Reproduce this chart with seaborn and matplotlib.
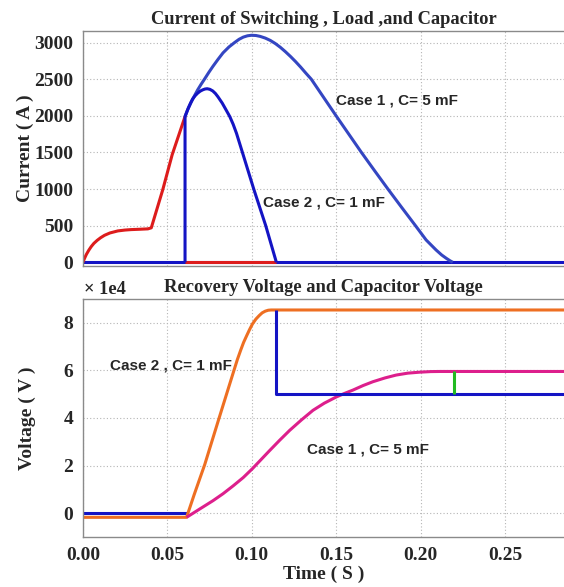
import matplotlib
matplotlib.use("Agg")
import matplotlib.pyplot as plt
import seaborn as sns

# ---------------- data ----------------
# Top panel: currents (A) vs time (s)
red_t = [0.0, 0.001, 0.002, 0.0035, 0.0049, 0.0065, 0.0085, 0.0105, 0.0128, 0.016,
         0.0207, 0.025, 0.0286, 0.034, 0.0385, 0.0405, 0.0473, 0.0529, 0.0605]
red_i = [0, 55, 105, 165, 213, 258, 300, 335, 368, 400,
         428, 440, 446, 451, 456, 470, 990, 1470, 1990]
red_zero_t = [0.0605, 0.1146]
red_zero_i = [0, 0]

case1_t = [0.0605, 0.0620, 0.0640, 0.0660, 0.0680, 0.0700, 0.0720, 0.0745, 0.0770, 0.0800,
           0.0830, 0.0865, 0.0898, 0.0925, 0.0950, 0.0975, 0.0998, 0.1025, 0.1050, 0.1080,
           0.1110, 0.1140, 0.1170, 0.1200, 0.1230, 0.1260, 0.1290, 0.1320, 0.1353, 0.1425,
           0.1500, 0.1575, 0.1650, 0.1728, 0.1807, 0.1888, 0.1970, 0.2033, 0.2092, 0.2125,
           0.2152, 0.2175, 0.2191]
case1_i = [1990, 2080, 2180, 2270, 2355, 2430, 2500, 2590, 2675, 2770,
           2860, 2940, 3000, 3045, 3075, 3093, 3100, 3097, 3085, 3062,
           3030, 2987, 2935, 2875, 2810, 2740, 2665, 2585, 2500, 2255,
           2000, 1750, 1500, 1250, 1000, 750, 500, 305, 168, 100,
           55, 20, 0]

case2_t = [0.0605, 0.0605, 0.0615, 0.0625, 0.0638, 0.0650, 0.0665, 0.0680, 0.0695, 0.0710,
           0.0723, 0.0736, 0.0752, 0.0769, 0.0785, 0.0800, 0.0825, 0.0848, 0.0870, 0.0890,
           0.0910, 0.0945, 0.1012, 0.1083, 0.1146]
case2_i = [0, 1990, 2050, 2110, 2175, 2230, 2275, 2310, 2337, 2355,
           2366, 2370, 2362, 2340, 2305, 2260, 2175, 2081, 1990, 1885,
           1760, 1500, 1000, 500, 0]

base_t = [0.0, 0.285]
base_i = [0, 0]

# Bottom panel: voltages (x 1e4 V) vs time (s)
orange_t = [0.0, 0.0614, 0.0660, 0.0722, 0.0807, 0.0895, 0.0915, 0.0935, 0.0952, 0.0970,
            0.0988, 0.1005, 0.1025, 0.1045, 0.1062, 0.1080, 0.1098, 0.1115, 0.285]
orange_v = [-0.17, -0.17, 0.80, 2.05, 4.0, 6.0, 6.45, 6.85, 7.17, 7.45,
            7.72, 7.95, 8.15, 8.3, 8.41, 8.48, 8.52, 8.53, 8.53]

blue0_t = [0.0, 0.0614]
blue0_v = [0.0, 0.0]
blue1_t = [0.1146, 0.1146, 0.285]
blue1_v = [8.53, 5.0, 5.0]

pink_t = [0.0614, 0.0690, 0.0771, 0.0830, 0.0890, 0.0950, 0.1004, 0.1055, 0.1106, 0.1165,
          0.1225, 0.1295, 0.1363, 0.1430, 0.1501, 0.1550, 0.1600, 0.1660, 0.1718, 0.1790,
          0.1856, 0.1925, 0.1994, 0.2060, 0.2113, 0.285]
pink_v = [-0.17, 0.17, 0.53, 0.82, 1.15, 1.50, 1.87, 2.25, 2.63, 3.06,
          3.48, 3.92, 4.32, 4.62, 4.88, 5.03, 5.17, 5.36, 5.52, 5.68,
          5.80, 5.88, 5.92, 5.945, 5.95, 5.95]

green_t = [0.220, 0.220]
green_v = [5.0, 5.95]

top_yticks = [0, 500, 1000, 1500, 2000, 2500, 3000]
bot_yticks = [0, 2, 4, 6, 8]
xticks = [0.00, 0.05, 0.10, 0.15, 0.20, 0.25]
xtick_labels = ["0.00", "0.05", "0.10", "0.15", "0.20", "0.25"]

# ---------------- style ----------------
sns.set_style("white")
plt.rcParams["font.family"] = ["Liberation Serif", "DejaVu Serif"]

SERIF = "Liberation Serif"
SANS = "Liberation Sans"
RED = "#dd1c1c"
BLUE1 = "#3446c2"
BLUE2 = "#1414c4"
ORANGE = "#ee6f22"
PINK = "#dd1f8c"
GREEN = "#22bb22"
LW = 2.2
TICK_FS = 14
TITLE_FS = 13.3

fig = plt.figure(figsize=(5.64, 5.87), dpi=100)
ax1 = fig.add_axes([0.147, 0.547, 0.853, 0.401])
ax2 = fig.add_axes([0.147, 0.085, 0.853, 0.406])


def line(ax, x, y, color, lw=LW):
    sns.lineplot(x=x, y=y, ax=ax, color=color, lw=lw, sort=False,
                 estimator=None, legend=False, solid_joinstyle="round",
                 solid_capstyle="butt")


# top panel
line(ax1, base_t, base_i, BLUE2)
line(ax1, red_zero_t, red_zero_i, RED)
line(ax1, red_t, red_i, RED)
line(ax1, case1_t, case1_i, BLUE1)
line(ax1, case2_t, case2_i, BLUE2)

# bottom panel
line(ax2, blue0_t, blue0_v, BLUE2)
line(ax2, orange_t, orange_v, ORANGE)
line(ax2, pink_t, pink_v, PINK)
line(ax2, blue1_t, blue1_v, BLUE2)
line(ax2, green_t, green_v, GREEN)

for ax in (ax1, ax2):
    ax.set_xlim(0, 0.285)
    ax.set_xticks(xticks)
    ax.grid(True, color="#b5b5b5", linestyle=(0, (1, 2)), linewidth=0.8)
    ax.set_axisbelow(True)
    for s in ("left", "bottom", "top"):
        ax.spines[s].set_color("#8a8a8a")
        ax.spines[s].set_linewidth(1.0)
    ax.spines["right"].set_visible(False)
    ax.tick_params(axis="both", direction="out", length=4, width=0.8,
                   color="#8a8a8a", labelsize=TICK_FS, pad=3)

ax1.set_ylim(-50, 3165)
ax1.set_yticks(top_yticks)
ax1.set_yticklabels([str(v) for v in top_yticks], fontweight="bold", fontsize=TICK_FS,
                    family=SERIF)
ax1.tick_params(axis="x", length=0, labelbottom=False)
ax1.set_xlabel("")
ax1.set_ylabel("Current ( A )", fontsize=TICK_FS, fontweight="bold", family=SERIF,
               labelpad=0)
ax1.set_title("Current of Switching , Load ,and Capacitor", fontsize=TITLE_FS,
              fontweight="bold", family=SERIF, pad=5)

ax2.set_ylim(-1, 9)
ax2.set_yticks(bot_yticks)
ax2.set_yticklabels([str(v) for v in bot_yticks], fontweight="bold", fontsize=TICK_FS,
                    family=SERIF)
ax2.set_xticklabels(xtick_labels, fontweight="bold", fontsize=TICK_FS, family=SERIF)
ax2.set_xlabel("Time ( S )", fontsize=TICK_FS, fontweight="bold", family=SERIF, labelpad=1)
ax2.set_ylabel("Voltage ( V )", fontsize=TICK_FS, fontweight="bold", family=SERIF,
               labelpad=20)
ax2.set_title("Recovery Voltage and Capacitor Voltage", fontsize=TITLE_FS,
              fontweight="bold", family=SERIF, pad=5)

fig.text(84 / 564, 1 - 290 / 587, "\u00d7 1e4", fontsize=13.3, family=SERIF,
         fontweight="bold", va="center", ha="left")

# annotations
ANN_FS = 11
ax1.text(0.1065, 810, "Case 2 , C= 1 mF", fontsize=ANN_FS, fontweight="bold",
         family=SANS, va="center", ha="left")
ax1.text(0.1497, 2216, "Case 1 , C= 5 mF", fontsize=ANN_FS, fontweight="bold",
         family=SANS, va="center", ha="left")
ax2.text(0.016, 6.18, "Case 2 , C= 1 mF", fontsize=ANN_FS, fontweight="bold",
         family=SANS, va="center", ha="left")
ax2.text(0.1325, 2.67, "Case 1 , C= 5 mF", fontsize=ANN_FS, fontweight="bold",
         family=SANS, va="center", ha="left")

fig.savefig("out.png", dpi=100)
